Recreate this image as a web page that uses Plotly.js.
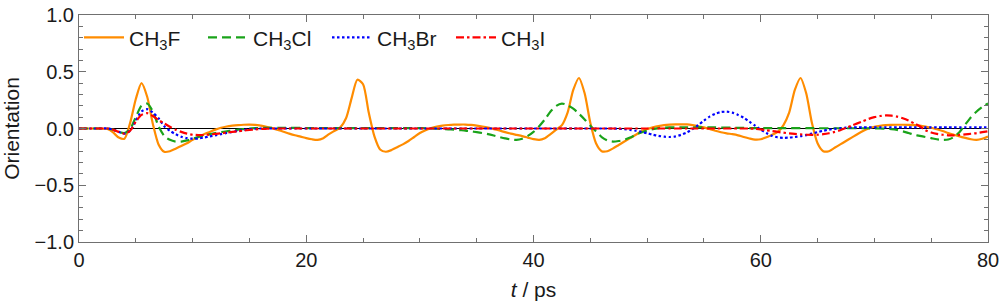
<!DOCTYPE html>
<html>
<head>
<meta charset="utf-8">
<script src="https://cdn.plot.ly/plotly-3.0.1.min.js"></script>
<style>
  html, body { margin: 0; padding: 0; background: #fff; }
  #chart { width: 1000px; height: 305px; }
</style>
</head>
<body>
<div id="chart"></div>
<script>
// time axis (ps)
const tPs = [
  0, 0.5, 1, 1.5, 2, 2.5, 3, 3.5, 4, 4.5,
  5, 5.5, 6, 6.5, 7, 7.5, 8, 8.5, 9, 9.5,
  10, 10.5, 11, 11.5, 12, 12.5, 13, 13.5, 14, 14.5,
  15, 15.5, 16, 16.5, 17, 17.5, 18, 18.5, 19, 19.5,
  20, 20.5, 21, 21.5, 22, 22.5, 23, 23.5, 24, 24.5,
  25, 25.5, 26, 26.5, 27, 27.5, 28, 28.5, 29, 29.5,
  30, 30.5, 31, 31.5, 32, 32.5, 33, 33.5, 34, 34.5,
  35, 35.5, 36, 36.5, 37, 37.5, 38, 38.5, 39, 39.5,
  40, 40.5, 41, 41.5, 42, 42.5, 43, 43.5, 44, 44.5,
  45, 45.5, 46, 46.5, 47, 47.5, 48, 48.5, 49, 49.5,
  50, 50.5, 51, 51.5, 52, 52.5, 53, 53.5, 54, 54.5,
  55, 55.5, 56, 56.5, 57, 57.5, 58, 58.5, 59, 59.5,
  60, 60.5, 61, 61.5, 62, 62.5, 63, 63.5, 64, 64.5,
  65, 65.5, 66, 66.5, 67, 67.5, 68, 68.5, 69, 69.5,
  70, 70.5, 71, 71.5, 72, 72.5, 73, 73.5, 74, 74.5,
  75, 75.5, 76, 76.5, 77, 77.5, 78, 78.5, 79, 79.5,
  80
];

const ch3f = [
  0, 0, 0, 0, 0, -0.005, -0.035, -0.08, -0.09, 0.05,
  0.26, 0.40, 0.28, 0.04, -0.14, -0.205, -0.2, -0.178, -0.155, -0.13,
  -0.1, -0.075, -0.05, -0.03, -0.01, 0.007, 0.018, 0.025, 0.03, 0.033,
  0.034, 0.032, 0.025, 0.015, 0.003, -0.012, -0.028, -0.045, -0.06, -0.072,
  -0.085, -0.095, -0.1, -0.085, -0.05, -0.02, 0.01, 0.09, 0.27, 0.43,
  0.39, 0.14, -0.07, -0.185, -0.205, -0.19, -0.165, -0.14, -0.11, -0.075,
  -0.04, -0.015, 0.005, 0.018, 0.026, 0.031, 0.034, 0.035, 0.035, 0.032,
  0.026, 0.018, 0.008, -0.005, -0.018, -0.032, -0.045, -0.056, -0.067, -0.08,
  -0.093, -0.1, -0.085, -0.05, -0.01, 0.03, 0.14, 0.34, 0.445, 0.31,
  0.05, -0.13, -0.2, -0.2, -0.175, -0.145, -0.115, -0.085, -0.055, -0.025,
  -0.005, 0.01, 0.022, 0.03, 0.034, 0.036, 0.037, 0.036, 0.03, 0.02,
  0.01, -0.005, -0.02, -0.033, -0.043, -0.05, -0.06, -0.075, -0.088, -0.098,
  -0.095, -0.078, -0.055, -0.03, 0.03, 0.14, 0.34, 0.445, 0.31, 0.05,
  -0.13, -0.2, -0.2, -0.17, -0.14, -0.11, -0.08, -0.05, -0.022, 0.0,
  0.015, 0.024, 0.03, 0.032, 0.033, 0.033, 0.032, 0.03, 0.025, 0.017,
  0.007, -0.007, -0.022, -0.04, -0.055, -0.07, -0.083, -0.095, -0.1, -0.09,
  -0.07
];

const ch3cl = [
  0, 0, 0, 0, 0, 0, -0.01, -0.03, -0.04, -0.005,
  0.10, 0.20, 0.22, 0.15, 0.02, -0.065, -0.1, -0.115, -0.115, -0.105,
  -0.09, -0.075, -0.06, -0.05, -0.04, -0.032, -0.025, -0.018, -0.01, -0.005,
  0, 0.003, 0.005, 0.005, 0.005, 0.005, 0.005, 0.005, 0.005, 0.005,
  0.004, 0.004, 0.004, 0.004, 0.004, 0.004, 0.004, 0.004, 0.004, 0.004,
  0.004, 0.004, 0.004, 0.004, 0.004, 0.004, 0.004, 0.004, 0.004, 0.004,
  0.003, 0.002, 0.0, -0.002, -0.005, -0.008, -0.01, -0.014, -0.018, -0.025,
  -0.032, -0.04, -0.05, -0.062, -0.075, -0.087, -0.097, -0.1, -0.09, -0.065,
  -0.03, 0.02, 0.08, 0.15, 0.2, 0.22, 0.205, 0.175, 0.13, 0.08,
  0.025, -0.025, -0.075, -0.105, -0.115, -0.11, -0.1, -0.08, -0.055, -0.035,
  -0.018, -0.005, 0.004, 0.008, 0.01, 0.01, 0.01, 0.01, 0.01, 0.01,
  0.01, 0.01, 0.01, 0.009, 0.008, 0.007, 0.006, 0.005, 0.004, 0.004,
  0.003, 0.003, 0.003, 0.003, 0.003, 0.003, 0.003, 0.003, 0.003, 0.003,
  0.002, 0.002, 0.002, 0.002, 0.002, 0.002, 0.002, 0.002, 0.002, 0.002,
  0.001, 0.0, -0.002, -0.005, -0.012, -0.025, -0.04, -0.055, -0.065, -0.075,
  -0.085, -0.095, -0.1, -0.097, -0.075, -0.03, 0.035, 0.1, 0.15, 0.19,
  0.22
];

const ch3br = [
  0, 0, 0, 0, 0, 0, -0.01, -0.03, -0.045, -0.02,
  0.07, 0.15, 0.17, 0.14, 0.09, 0.02, -0.02, -0.05, -0.072, -0.085,
  -0.09, -0.088, -0.08, -0.07, -0.06, -0.05, -0.04, -0.03, -0.02, -0.012,
  -0.006, -0.002, 0, 0, 0, 0, 0, 0, 0, 0,
  0, 0, 0, 0, 0, 0, 0, 0, 0, 0,
  0, 0, 0, 0, 0, 0, 0, 0, 0, 0,
  0, 0, 0, 0, 0, 0, 0, 0, 0, 0,
  0, 0, 0, 0, 0, 0, 0, 0, 0, 0,
  0, 0, 0, 0, 0, 0, 0, 0, 0, 0,
  0, 0, 0, 0, 0, -0.003, -0.006, -0.012, -0.02, -0.03,
  -0.042, -0.055, -0.065, -0.072, -0.075, -0.07, -0.055, -0.035, -0.005, 0.03,
  0.07, 0.105, 0.13, 0.145, 0.148, 0.14, 0.12, 0.095, 0.06, 0.025,
  -0.01, -0.04, -0.065, -0.078, -0.082, -0.08, -0.075, -0.068, -0.058, -0.045,
  -0.032, -0.02, -0.01, -0.003, 0.003, 0.007, 0.009, 0.01, 0.01, 0.01,
  0.01, 0.01, 0.01, 0.01, 0.01, 0.01, 0.01, 0.01, 0.01, 0.01,
  0.01, 0.01, 0.01, 0.01, 0.01, 0.01, 0.01, 0.01, 0.01, 0.01,
  0.01
];

const ch3i = [
  0, 0, 0, 0, 0, 0, -0.01, -0.03, -0.045, -0.02,
  0.06, 0.12, 0.135, 0.11, 0.075, 0.045, 0.015, -0.01, -0.03, -0.045,
  -0.055, -0.058, -0.057, -0.053, -0.048, -0.042, -0.036, -0.03, -0.024, -0.018,
  -0.013, -0.008, -0.004, -0.002, 0, 0, 0, 0, 0, 0,
  0, 0, 0, 0, 0, 0, 0, 0, 0, 0,
  0, 0, 0, 0, 0, 0, 0, 0, 0, 0,
  0, 0, 0, 0, 0, 0, 0, 0, 0, 0,
  0, 0, 0, 0, 0, 0, 0, 0, 0, 0,
  0, 0, 0, 0, 0, 0, 0, 0, 0, 0,
  0, 0, 0, 0, 0, 0, 0, 0, 0, 0,
  0, 0, 0, 0, 0, 0, 0, 0, 0, 0,
  0, 0, 0, 0, 0, 0, 0, 0, 0, -0.003,
  -0.008, -0.015, -0.022, -0.03, -0.037, -0.043, -0.048, -0.052, -0.055, -0.056,
  -0.055, -0.05, -0.042, -0.03, -0.015, 0.005, 0.025, 0.045, 0.065, 0.085,
  0.1, 0.11, 0.115, 0.113, 0.105, 0.09, 0.07, 0.045, 0.02, -0.015,
  -0.035, -0.048, -0.055, -0.06, -0.06, -0.057, -0.052, -0.046, -0.04, -0.032,
  -0.024
];

const seriesNames = ['CH<sub>3</sub>F', 'CH<sub>3</sub>Cl', 'CH<sub>3</sub>Br', 'CH<sub>3</sub>I'];
const xTickVals = [0, 20, 40, 60, 80];
const yTickVals = [-1, -0.5, 0, 0.5, 1];

const FONT = '"Liberation Sans", Arial, sans-serif';
const FRAME = '#707070';
const TXT = '#1a1a1a';

const traces = [
  { y: ch3f,  name: seriesNames[0], line: { color: '#ff8c00', width: 2.2, dash: 'solid', shape: 'spline', smoothing: 0.7 } },
  { y: ch3cl, name: seriesNames[1], line: { color: '#1aa31a', width: 2.2, dash: '9px,5px', shape: 'spline', smoothing: 0.7 } },
  { y: ch3br, name: seriesNames[2], line: { color: '#0000ff', width: 2.2, dash: '2.5px,2.5px', shape: 'spline', smoothing: 0.7 } },
  { y: ch3i,  name: seriesNames[3], line: { color: '#ff0000', width: 2.2, dash: '8px,3px,2.5px,3px', shape: 'spline', smoothing: 0.7 } }
].map(s => Object.assign({ x: tPs, type: 'scatter', mode: 'lines', hoverinfo: 'skip' }, s));

const layout = {
  width: 1000,
  height: 305,
  margin: { l: 79, r: 12, t: 15, b: 63 },
  paper_bgcolor: '#ffffff',
  plot_bgcolor: '#ffffff',
  font: { family: FONT, size: 20, color: TXT },
  showlegend: true,
  legend: {
    orientation: 'h',
    x: 0.0, y: 0.99, xanchor: 'left', yanchor: 'top',
    bgcolor: 'rgba(0,0,0,0)',
    font: { family: FONT, size: 21, color: TXT },
    entrywidth: 69,
    itemwidth: 40,
    traceorder: 'normal'
  },
  xaxis: {
    range: [0, 80],
    tickvals: xTickVals,
    ticks: 'inside', ticklen: 7, tickwidth: 1, tickcolor: FRAME,
    minor: { dtick: 5, ticks: 'inside', ticklen: 4, tickcolor: FRAME, showgrid: false },
    showline: true, linecolor: FRAME, linewidth: 1, mirror: 'ticks',
    showgrid: false, zeroline: false,
    tickfont: { family: FONT, size: 20, color: TXT },
    title: { text: '<i>t</i> / ps', font: { family: FONT, size: 21, color: TXT }, standoff: 12 }
  },
  yaxis: {
    range: [-1, 1],
    tickvals: yTickVals,
    tickformat: '.1f',
    ticks: 'inside', ticklen: 7, tickwidth: 1, tickcolor: FRAME,
    minor: { dtick: 0.1, ticks: 'inside', ticklen: 4, tickcolor: FRAME, showgrid: false },
    showline: true, linecolor: FRAME, linewidth: 1, mirror: 'ticks',
    showgrid: false,
    zeroline: true, zerolinecolor: '#000000', zerolinewidth: 1.3,
    tickfont: { family: FONT, size: 20, color: TXT },
    title: { text: 'Orientation', font: { family: FONT, size: 21, color: TXT }, standoff: 9 }
  }
};

Plotly.newPlot('chart', traces, layout, { displayModeBar: false, staticPlot: true });
</script>
</body>
</html>
